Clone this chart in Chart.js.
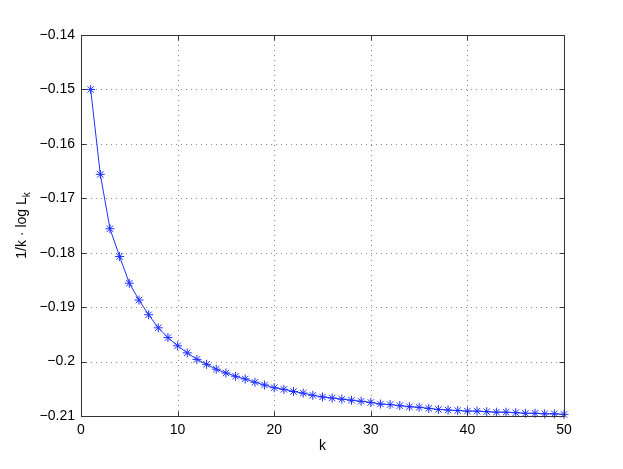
<!DOCTYPE html>
<html>
<head>
<meta charset="utf-8">
<script src="https://cdn.jsdelivr.net/npm/chart.js@4/dist/chart.umd.min.js"></script>
<style>
html,body{margin:0;padding:0;background:#fff;}
#wrap{width:623px;height:469px;}
</style>
</head>
<body>
<div id="wrap"><canvas id="c" width="623" height="469"></canvas></div>
<script>
const kValues = [1,2,3,4,5,6,7,8,9,10,11,12,13,14,15,16,17,18,19,20,21,22,23,24,25,26,27,28,29,30,31,32,33,34,35,36,37,38,39,40,41,42,43,44,45,46,47,48,49,50];
const yValues = [-0.1500,-0.1656,-0.1756,-0.1807,-0.1856,-0.1887,-0.1914,-0.1938,-0.1956,-0.1971,
  -0.1984,-0.1996,-0.2005,-0.2014,-0.2021,-0.2027,-0.2032,-0.2038,-0.2043,-0.2048,
  -0.2051,-0.2055,-0.2058,-0.2062,-0.2065,-0.2067,-0.2069,-0.2071,-0.2073,-0.2075,
  -0.2078,-0.2079,-0.2081,-0.2083,-0.2084,-0.2086,-0.2088,-0.2089,-0.2090,-0.2091,
  -0.2091,-0.2092,-0.2093,-0.2093,-0.2094,-0.2095,-0.2095,-0.2096,-0.2096,-0.2097];
const xTicks = [0,10,20,30,40,50];
const yTicks = [-0.21,-0.20,-0.19,-0.18,-0.17,-0.16,-0.15,-0.14];
const yTickLabels = ['\u22120.21','\u22120.2','\u22120.19','\u22120.18','\u22120.17','\u22120.16','\u22120.15','\u22120.14'];
const xTitle = 'k';
const yTitleMain = '1/k \u00b7 log L';
const yTitleSub = 'k';

const FONT = '"Liberation Sans", Arial, Helvetica, sans-serif';

const axesPlugin = {
  id: 'matlabAxes',
  beforeDatasetsDraw(chart) {
    const {ctx, chartArea: a, scales: {x, y}} = chart;
    ctx.save();
    ctx.strokeStyle = '#8a8a8a';
    ctx.lineWidth = 1;
    ctx.setLineDash([1, 4]);
    xTicks.forEach(v => {
      const px = Math.round(x.getPixelForValue(v)) + 0.5;
      if (px <= a.left + 1 || px >= a.right - 1) return;
      ctx.beginPath(); ctx.moveTo(px, a.bottom); ctx.lineTo(px, a.top); ctx.stroke();
    });
    yTicks.forEach(v => {
      const py = Math.round(y.getPixelForValue(v)) + 0.5;
      if (py <= a.top + 1 || py >= a.bottom - 1) return;
      ctx.beginPath(); ctx.moveTo(a.left, py); ctx.lineTo(a.right, py); ctx.stroke();
    });
    ctx.restore();
  },
  afterDatasetsDraw(chart) {
    const {ctx, chartArea: a, scales: {x, y}} = chart;
    ctx.save();
    ctx.strokeStyle = '#333';
    ctx.lineWidth = 1;
    ctx.setLineDash([]);
    const L = Math.round(a.left) + 0.5, R = Math.round(a.right) + 0.5;
    const T = Math.round(a.top) + 0.5, B = Math.round(a.bottom) + 0.5;
    ctx.strokeRect(L, T, R - L, B - T);
    const tl = 5;
    ctx.beginPath();
    xTicks.forEach(v => {
      const px = Math.round(x.getPixelForValue(v)) + 0.5;
      ctx.moveTo(px, B); ctx.lineTo(px, B - tl);
      ctx.moveTo(px, T); ctx.lineTo(px, T + tl);
    });
    yTicks.forEach(v => {
      const py = Math.round(y.getPixelForValue(v)) + 0.5;
      ctx.moveTo(L, py); ctx.lineTo(L + tl, py);
      ctx.moveTo(R, py); ctx.lineTo(R - tl, py);
    });
    ctx.stroke();
    // axis titles
    ctx.fillStyle = '#000';
    ctx.font = '14px ' + FONT;
    ctx.textAlign = 'center';
    ctx.textBaseline = 'middle';
    ctx.fillText(xTitle, (a.left + a.right) / 2, 446);
    // y title with subscript
    ctx.translate(21, (a.top + a.bottom) / 2);
    ctx.rotate(-Math.PI / 2);
    ctx.font = '14px ' + FONT;
    const wMain = ctx.measureText(yTitleMain).width;
    ctx.font = '10px ' + FONT;
    const wSub = ctx.measureText(yTitleSub).width;
    const start = -(wMain + wSub) / 2;
    ctx.textAlign = 'left';
    ctx.textBaseline = 'alphabetic';
    ctx.font = '14px ' + FONT;
    ctx.fillText(yTitleMain, start, 5);
    ctx.font = '10px ' + FONT;
    ctx.fillText(yTitleSub, start + wMain, 9);
    ctx.restore();
  }
};

const chart = new Chart(document.getElementById('c'), {
  type: 'line',
  data: {
    labels: kValues,
    datasets: [{
      data: kValues.map((k, i) => ({x: k, y: yValues[i]})),
      borderColor: 'rgb(30,50,255)',
      backgroundColor: 'rgb(30,50,255)',
      borderWidth: 1,
      pointStyle: 'star',
      pointRadius: 4.5,
      pointBorderWidth: 1,
      pointBorderColor: 'rgb(30,50,255)',
      tension: 0,
      clip: false,
      fill: false
    }]
  },
  options: {
    responsive: false,
    animation: false,
    devicePixelRatio: 1,
    layout: {padding: {left: 0, top: 35, right: 59, bottom: 0}},
    plugins: {legend: {display: false}, tooltip: {enabled: false}, title: {display: false}},
    scales: {
      x: {
        type: 'linear', min: 0, max: 50,
        afterBuildTicks(s) { s.ticks = xTicks.map(v => ({value: v})); },
        afterFit(s) { s.height = 53; },
        grid: {display: false, drawTicks: false},
        border: {display: false},
        ticks: {color: '#000', font: {family: FONT, size: 14}, padding: 6, maxRotation: 0,
          callback: v => String(v)}
      },
      y: {
        type: 'linear', min: -0.21, max: -0.14,
        afterBuildTicks(s) { s.ticks = yTicks.map(v => ({value: v})); },
        afterFit(s) { s.width = 81; },
        grid: {display: false, drawTicks: false},
        border: {display: false},
        ticks: {color: '#000', font: {family: FONT, size: 14}, padding: 6,
          callback: v => { const i = yTicks.findIndex(t => Math.abs(t - v) < 1e-9); return i >= 0 ? yTickLabels[i] : ''; }}
      }
    }
  },
  plugins: [axesPlugin]
});
</script>
</body>
</html>
